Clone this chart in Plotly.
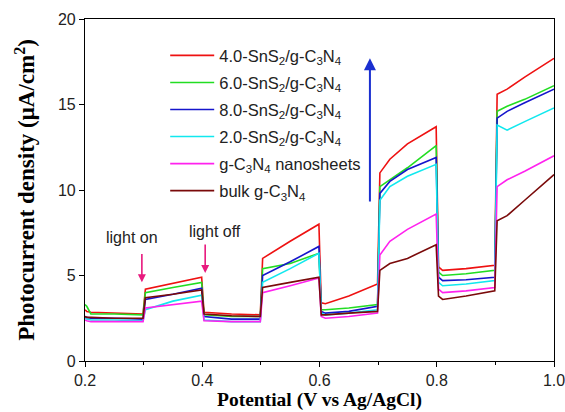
import plotly.graph_objects as go

# Potential (V vs Ag/AgCl) sample points
potential = [0.200, 0.203, 0.21, 0.25, 0.299, 0.303, 0.35, 0.399, 0.403, 0.45,
             0.499, 0.503, 0.55, 0.599, 0.603, 0.61, 0.65, 0.699, 0.703, 0.72,
             0.75, 0.799, 0.803, 0.81, 0.85, 0.899, 0.903, 0.92, 0.95, 1.0]

snS2_40 = [3.0, 2.9, 2.85, 2.8, 2.75, 4.2, 4.55, 4.9, 2.85, 2.75,
           2.7, 6.0, 7.0, 8.0, 3.4, 3.35, 3.8, 4.5, 11.0, 11.8,
           12.7, 13.7, 5.5, 5.3, 5.4, 5.6, 15.6, 15.9, 16.6, 17.7]
snS2_60 = [3.3, 3.2, 2.75, 2.75, 2.7, 4.0, 4.3, 4.6, 2.7, 2.6,
           2.6, 5.4, 5.7, 6.3, 3.0, 3.0, 3.1, 3.3, 10.2, 10.6,
           11.3, 12.6, 5.2, 5.0, 5.1, 5.3, 14.6, 14.9, 15.3, 16.1]
snS2_80 = [2.6, 2.55, 2.5, 2.5, 2.45, 3.6, 3.9, 4.25, 2.6, 2.45,
           2.45, 5.0, 5.8, 6.7, 2.9, 2.8, 2.9, 3.2, 9.8, 10.5,
           11.2, 11.9, 4.9, 4.7, 4.75, 4.9, 14.2, 14.6, 15.1, 15.9]
snS2_20 = [2.5, 2.45, 2.4, 2.4, 2.35, 3.0, 3.5, 3.85, 2.4, 2.3,
           2.3, 4.6, 5.4, 6.3, 2.8, 2.7, 2.8, 3.0, 9.4, 10.2,
           10.8, 11.5, 4.6, 4.4, 4.5, 4.7, 13.8, 13.5, 14.0, 14.8]
nanosheets = [2.4, 2.35, 2.3, 2.3, 2.3, 3.1, 3.3, 3.5, 2.35, 2.3,
              2.3, 4.0, 4.4, 4.85, 2.6, 2.5, 2.6, 2.8, 6.2, 7.0,
              7.7, 8.6, 4.2, 4.0, 4.1, 4.3, 10.2, 10.6, 11.1, 12.0]
bulk = [2.6, 2.55, 2.55, 2.5, 2.5, 3.7, 3.9, 4.15, 2.75, 2.65,
        2.6, 4.3, 4.6, 4.9, 2.7, 2.7, 2.8, 2.9, 5.3, 5.7,
        6.0, 6.8, 3.8, 3.6, 3.8, 4.1, 8.2, 8.5, 9.4, 10.9]

series_names = [
    "4.0-SnS<sub>2</sub>/g-C<sub>3</sub>N<sub>4</sub>",
    "6.0-SnS<sub>2</sub>/g-C<sub>3</sub>N<sub>4</sub>",
    "8.0-SnS<sub>2</sub>/g-C<sub>3</sub>N<sub>4</sub>",
    "2.0-SnS<sub>2</sub>/g-C<sub>3</sub>N<sub>4</sub>",
    "g-C<sub>3</sub>N<sub>4</sub> nanosheets",
    "bulk g-C<sub>3</sub>N<sub>4</sub>",
]
series_values = [snS2_40, snS2_60, snS2_80, snS2_20, nanosheets, bulk]
colors = ["#ee1111", "#22dd22", "#1515cc", "#11e8ee", "#ff22ee", "#7a0a0a"]

x_ticks = [0.2, 0.4, 0.6, 0.8, 1.0]
x_tick_labels = ["0.2", "0.4", "0.6", "0.8", "1.0"]
y_ticks = [0, 5, 10, 15, 20]

SANS = "Liberation Sans, Arial"
SERIF = "Liberation Serif, Times New Roman"

fig = go.Figure()
for i, (name, vals, col) in enumerate(zip(series_names, series_values, colors)):
    fig.add_trace(go.Scatter(x=potential, y=vals, mode="lines", name=name,
                             legendgroup=f"g{i}",
                             line=dict(color=col, width=1.6)))

# arrows and labels
fig.add_annotation(x=0.686, y=17.7, ax=0.686, ay=9.24, xref="x", yref="y",
                   axref="x", ayref="y", showarrow=True, arrowhead=2,
                   arrowsize=1.2, arrowwidth=2, arrowcolor="#1a2fd0", text="")
fig.add_annotation(x=0.297, y=4.6, ax=0.297, ay=6.35, xref="x", yref="y",
                   axref="x", ayref="y", showarrow=True, arrowhead=2,
                   arrowsize=1, arrowwidth=1.6, arrowcolor="#e8197e", text="")
fig.add_annotation(x=0.405, y=5.15, ax=0.405, ay=6.9, xref="x", yref="y",
                   axref="x", ayref="y", showarrow=True, arrowhead=2,
                   arrowsize=1, arrowwidth=1.6, arrowcolor="#e8197e", text="")
fig.add_annotation(x=0.281, y=7.25, xref="x", yref="y", text="light on",
                   showarrow=False, font=dict(family=SANS, size=16, color="#222"))
fig.add_annotation(x=0.422, y=7.6, xref="x", yref="y", text="light off",
                   showarrow=False, font=dict(family=SANS, size=16, color="#222"))

axis_common = dict(showline=True, linecolor="black", linewidth=1.2, mirror=True,
                   showgrid=False, zeroline=False, ticks="outside", ticklen=5,
                   automargin=False, ticklabeloverflow="allow",
                   tickcolor="black", tickfont=dict(family=SANS, size=16, color="#222"))

fig.update_xaxes(range=[0.2, 1.0], tickvals=x_ticks, ticktext=x_tick_labels,
                 minor=dict(ticks="outside", ticklen=3, tickvals=[0.3, 0.5, 0.7, 0.9], tickcolor="black"),
                 title=dict(text="<b>Potential (V vs Ag/AgCl)</b>", standoff=3,
                            font=dict(family=SERIF, size=19.5, color="black")),
                 **axis_common)
fig.update_yaxes(range=[0, 20], tickvals=y_ticks,
                 title=dict(text="<b>Photocurrent density (μA/cm<sup>2</sup>)</b>", standoff=16,
                            font=dict(family=SERIF, size=23, color="black")),
                 **axis_common)

fig.update_layout(
    width=565, height=412,
    margin=dict(l=85, r=11, t=19, b=51),
    paper_bgcolor="white", plot_bgcolor="white",
    legend=dict(x=0.171, y=0.944, xanchor="left", yanchor="top",
                bgcolor="rgba(0,0,0,0)", tracegroupgap=2.6, itemwidth=44,
                font=dict(family=SANS, size=16.5, color="#222")),
)

fig.write_html("out.html")
